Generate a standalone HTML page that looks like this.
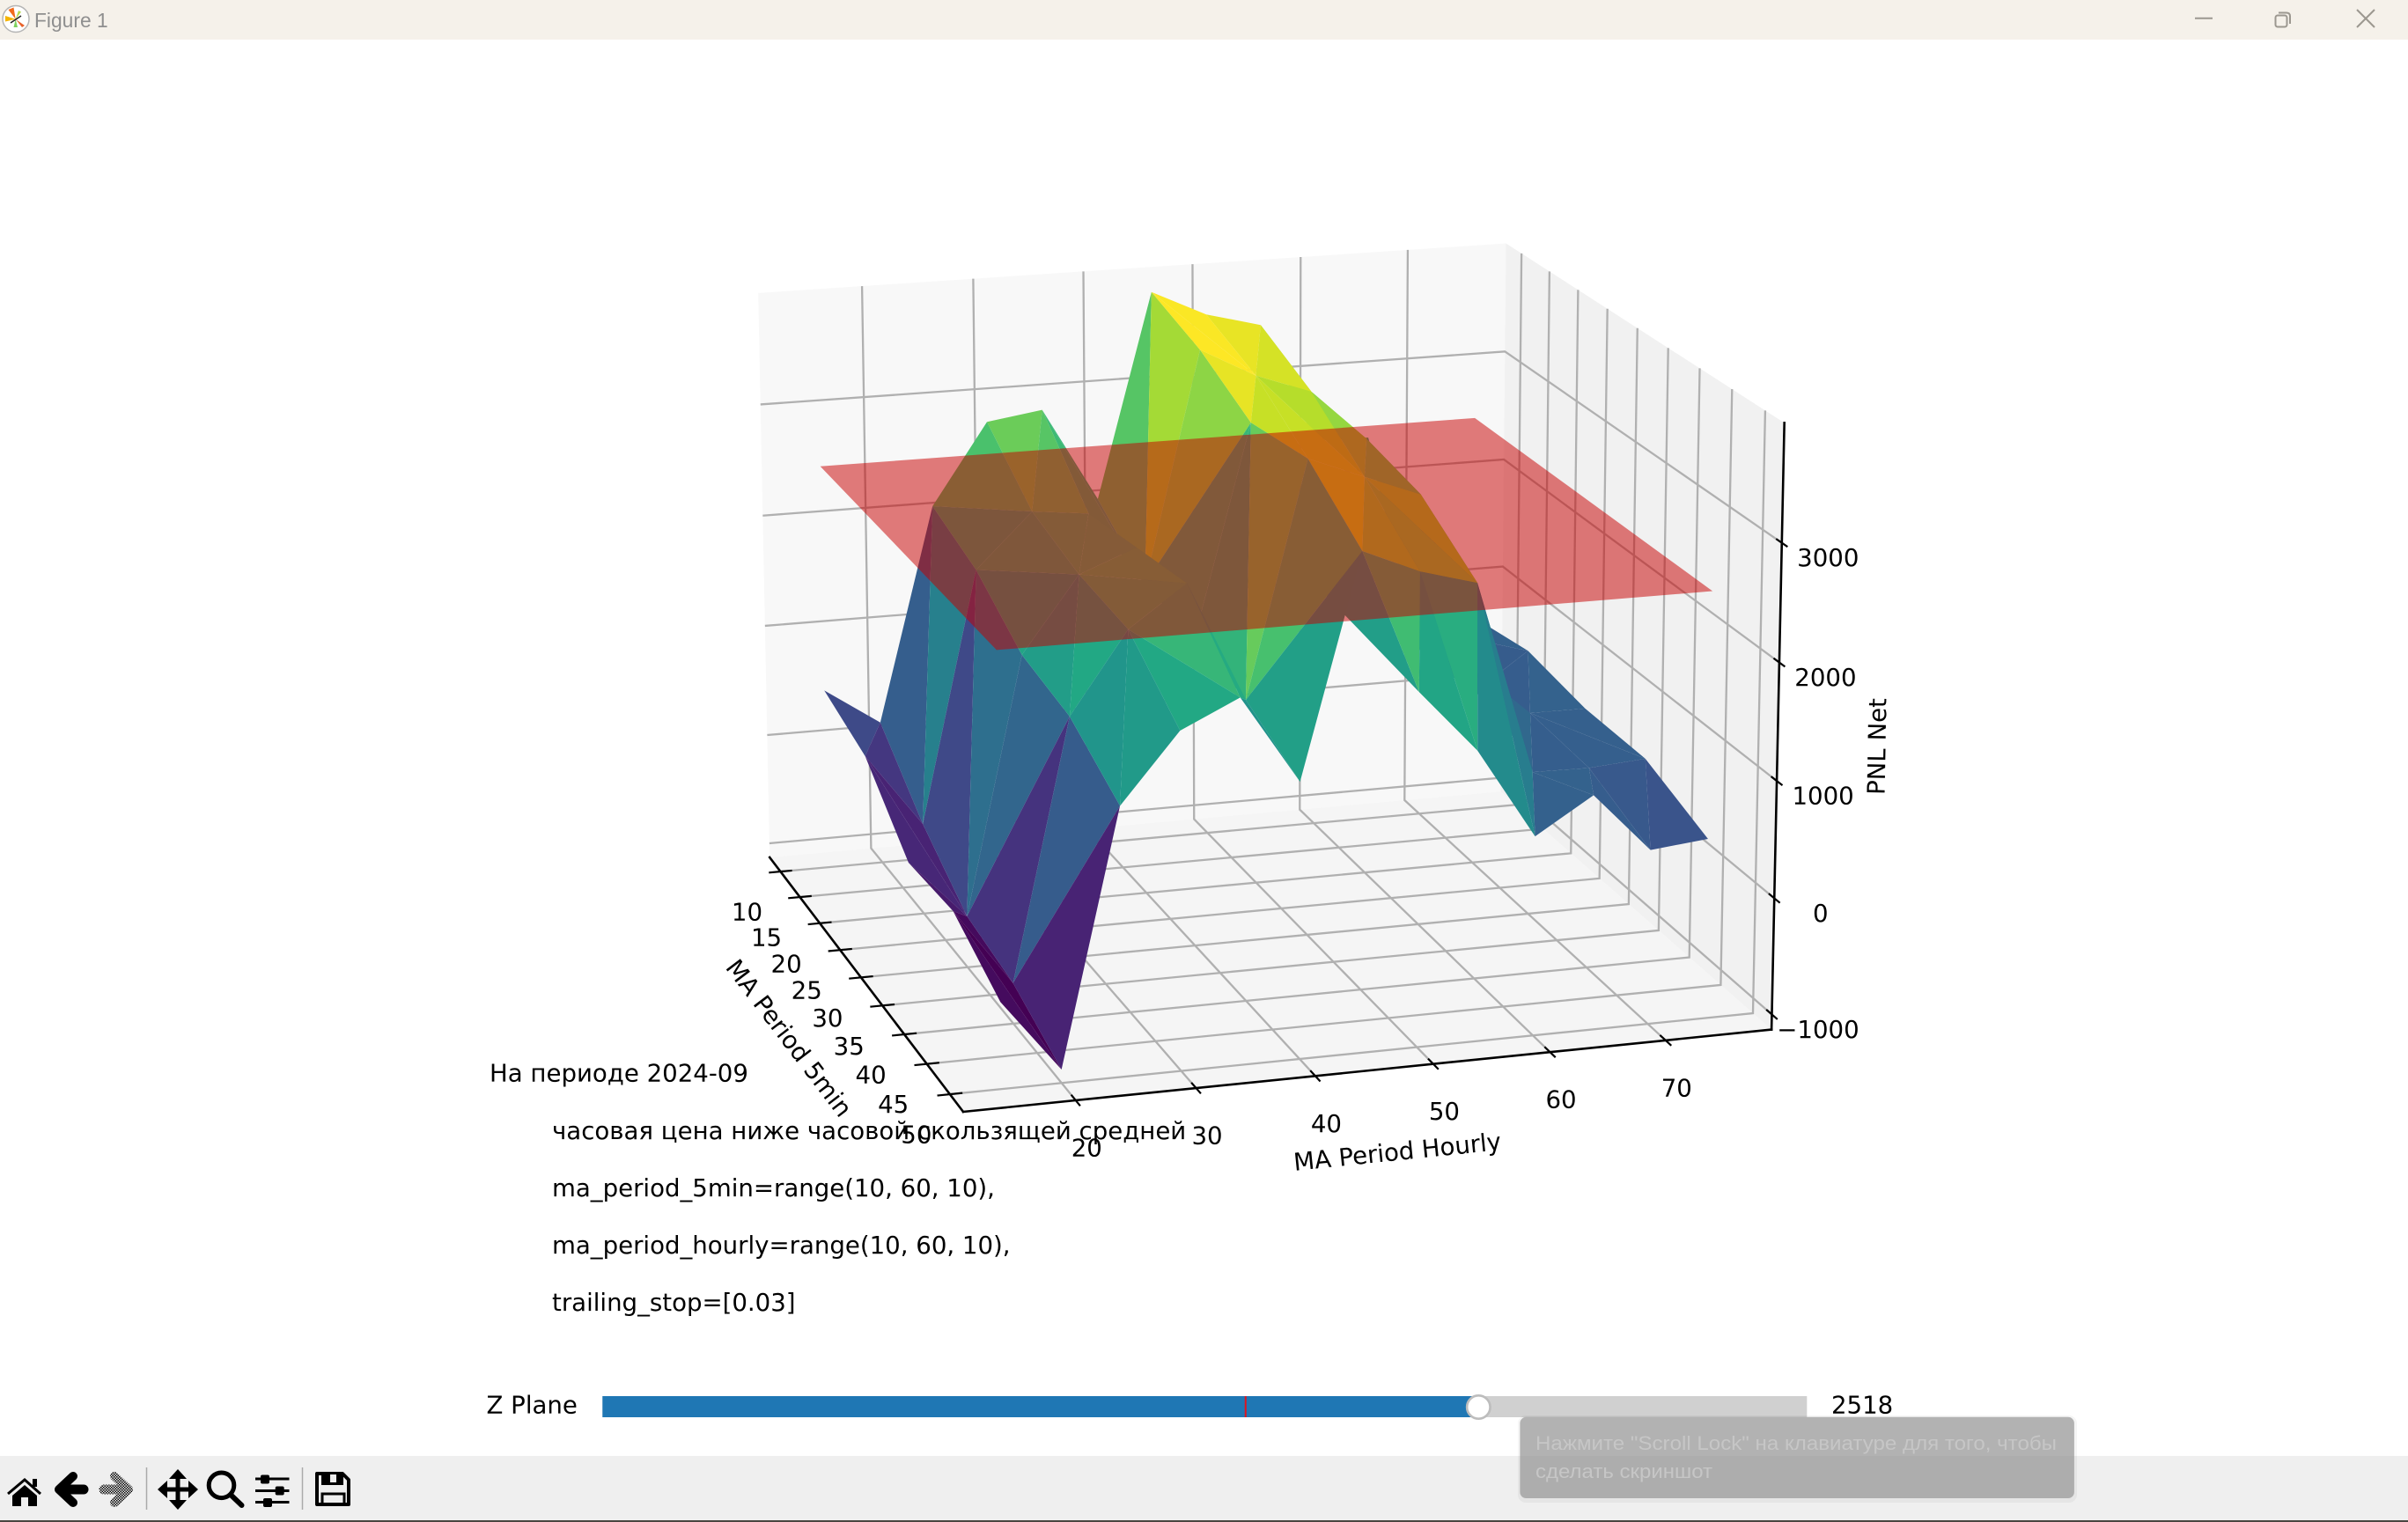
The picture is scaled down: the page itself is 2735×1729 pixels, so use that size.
<!DOCTYPE html>
<html lang="ru">
<head>
<meta charset="utf-8">
<title>Figure 1</title>
<style>
html,body{margin:0;padding:0;background:#fff;width:2735px;height:1729px;overflow:hidden}
svg{display:block}
.mpl{font-family:"DejaVu Sans","Liberation Sans",sans-serif;font-size:27.6px;fill:#000}
.win{font-family:"Liberation Sans","Noto Sans CJK SC",sans-serif}
</style>
</head>
<body>
<svg id="figure" xmlns="http://www.w3.org/2000/svg" width="2735" height="1729" viewBox="0 0 2735 1729">
  <defs>
    <pattern id="dither" width="3" height="3" patternUnits="userSpaceOnUse">
      <rect width="3" height="3" fill="#efefef"/>
      <rect width="1.5" height="1.5" fill="#000"/>
      <rect x="1.5" y="1.5" width="1.5" height="1.5" fill="#000"/>
    </pattern>
  </defs>
  <rect x="0" y="0" width="2735" height="1729" fill="#ffffff"/>

  <g>
    <rect x="0" y="0" width="2735" height="45" fill="#f5f1ea"/>
    <g>
      <circle cx="18" cy="21.500" r="15" fill="#fff" stroke="#b5b5b5" stroke-width="1.500"/>
      <polygon points="17.700,21.700 9.500,11 15.500,8.500" fill="#f26a1b"/>
      <polygon points="17.700,21.700 6,18 6,24.500" fill="#f5b400"/>
      <polygon points="17.700,21.700 21,12 24,13.500" fill="#b5d94c"/>
      <polygon points="17.700,21.700 15.500,31 20,31" fill="#7fd15f"/>
      <polygon points="17.700,21.700 25,31 28,29" fill="#e8622a"/>
      <line x1="12" y1="26" x2="24" y2="18" stroke="#222" stroke-width="1.500"/>
    </g>
    <text class="win" x="39" y="31" font-size="22.800" fill="#8f8f8f">Figure 1</text>
    <line x1="2493" y1="20.700" x2="2513" y2="20.700" stroke="#9c9890" stroke-width="2"/>
    <g fill="none" stroke="#9c9890" stroke-width="2">
      <rect x="2584.500" y="17.500" width="13" height="13" rx="2.500"/>
      <path d="M2588,14.500 H2597 Q2601,14.500 2601,18.500 V27"/>
    </g>
    <g stroke="#9c9890" stroke-width="2">
      <line x1="2677" y1="11" x2="2697" y2="31"/>
      <line x1="2697" y1="11" x2="2677" y2="31"/>
    </g>
  </g>

  <g id="axes3d"></g>

  <g class="mpl">
    <text x="556" y="1228.700">На периоде 2024-09</text>
    <text x="627" y="1294">часовая цена ниже часовой скользящей средней</text>
    <text x="627" y="1358.800">ma_period_5min=range(10, 60, 10),</text>
    <text x="627" y="1424">ma_period_hourly=range(10, 60, 10),</text>
    <text x="627" y="1489">trailing_stop=[0.03]</text>
  </g>

  <g id="slider">
    <text class="mpl" x="552.500" y="1605.500">Z Plane</text>
    <text class="mpl" x="2080" y="1605.500">2518</text>
  </g>

  <g>
    <rect x="0" y="1654" width="2735" height="73" fill="#efefef"/>
    <rect x="0" y="1727" width="2735" height="2" fill="#4a4540"/>
    <g>
      <polyline points="9,1697 28,1681 46,1697" fill="none" stroke="#000" stroke-width="3"/>
      <polygon points="14,1699 28,1687 42,1699 42,1711 32,1711 32,1701 24,1701 24,1711 14,1711" fill="#000"/>
      <rect x="37" y="1680" width="5" height="9" fill="#000"/>
    </g>
    <g fill="none" stroke="#000" stroke-linecap="round" stroke-linejoin="round">
      <polyline points="83,1677 67,1692 83,1707" stroke-width="10"/>
      <line x1="70" y1="1692" x2="95" y2="1692" stroke-width="11"/>
    </g>
    <g fill="none" stroke="url(#dither)" stroke-linecap="round" stroke-linejoin="round">
      <polyline points="130,1677 146,1692 130,1707" stroke-width="10"/>
      <line x1="118" y1="1692" x2="143" y2="1692" stroke-width="11"/>
    </g>
    <line x1="166.500" y1="1667" x2="166.500" y2="1715" stroke="#aaaaaa" stroke-width="1.500"/>
    <g fill="#000">
      <rect x="188" y="1689.500" width="28" height="5"/>
      <rect x="199.500" y="1678" width="5" height="28"/>
      <polygon points="202,1669 212,1680 192,1680"/>
      <polygon points="202,1715 212,1704 192,1704"/>
      <polygon points="179,1692 190,1682 190,1702"/>
      <polygon points="225,1692 214,1682 214,1702"/>
    </g>
    <g fill="none" stroke="#000">
      <circle cx="251.500" cy="1687.300" r="14.300" stroke-width="5"/>
      <line x1="263" y1="1699" x2="274.500" y2="1710" stroke-width="6" stroke-linecap="round"/>
    </g>
    <g fill="#000">
      <rect x="290" y="1678.500" width="38.500" height="3"/>
      <rect x="290" y="1692" width="38.500" height="3"/>
      <rect x="290" y="1705" width="38.500" height="3"/>
      <rect x="296" y="1675.500" width="10" height="10" rx="2"/>
      <rect x="312.700" y="1688.500" width="10" height="10" rx="2"/>
      <rect x="299" y="1702" width="10" height="10" rx="2"/>
    </g>
    <line x1="343.500" y1="1667" x2="343.500" y2="1715" stroke="#aaaaaa" stroke-width="1.500"/>
    <g>
      <path d="M360,1674 H389 L396,1681 V1709 H360 Z" fill="none" stroke="#000" stroke-width="4" stroke-linejoin="round"/>
      <rect x="365" y="1674" width="25" height="13" fill="#000"/>
      <rect x="375" y="1675" width="7" height="9" fill="#efefef"/>
      <rect x="366" y="1697" width="25" height="12" fill="none" stroke="#000" stroke-width="3"/>
    </g>
  </g>

  <g>
    <rect x="1724" y="1608" width="635" height="99" rx="9" fill="#000" opacity="0.04"/>
    <rect x="1726.400" y="1609.800" width="629.500" height="92.200" rx="7" fill="rgb(144,144,144)" fill-opacity="0.67"/>
    <text class="win" x="1744" y="1647" font-size="22" fill="#c6c6c6" textLength="592" lengthAdjust="spacingAndGlyphs">Нажмите "Scroll Lock" на клавиатуре для того, чтобы</text>
    <text class="win" x="1744" y="1679" font-size="22" fill="#c6c6c6" textLength="201" lengthAdjust="spacingAndGlyphs">сделать скриншот</text>
  </g>
</svg>

<script>
/* ---- chart data ---- */
const ma5minValues = [10, 20, 30, 40, 50];
const maHourlyValues = [15, 20, 25, 30, 35, 40, 45, 50, 55, 60, 65, 70, 75];
const pnlAt5min10 = [493, 158, 2085, 2807, 2879, 2036, 3869, 3634, 3505, 2424, 2412, 608, 675];
const pnlAt5min20 = [331, -321, 1904, 2381, 2325, 1662, 3695, 3433, 3256, 2803, 849, 431, 773];
const pnlAt5min30 = [-161, -679, 1565, 2220, 2414, 1579, 3416, 3069, 2874, 2684, 1108, 675, 672];
const pnlAt5min40 = [-111, -779, 1459, 2155, 2503, 1472, 2511, 2658, 2444, 2307, 633, 625, 662];
const pnlAt5min50 = [-397, -1017, 1148, 1728, 1960, 1215, null, 1879, 1344, 575, 879, 367, 416];
const pnlRows = [pnlAt5min10, pnlAt5min20, pnlAt5min30, pnlAt5min40, pnlAt5min50];
/* triangulation topology: diagonal choice per grid cell, plus irregular facets */
const cellDiagonals = ["BBABABABBBBA", "ABABBABABBBB", "BABABxxBABBA", "AABABxxBBBBB"];
const extraFacets = [
  [[2,5],[2,6],[3,5]], [[2,6],[2,7],[3,5]], [[2,7],[3,7],[3,5]],
  [[3,5],[3,7],[4,5]], [[3,6],[3,7],[4,7]]
];
/* colour values for facets whose tint differs from their vertex mean */
const colorOverrideFacets = ["2,7;2,8;3,7", "1,7;2,7;2,8", "2,8;3,7;3,8", "2,8;3,8;3,9", "2,8;2,9;3,9", "3,6;3,7;4,7"];
const colorOverrideValues = [3300, 3300, 3015, 2930, 3060, 1750];
/* facets painted behind everything else */
const backmostFacets = ["3,6;3,7;4,7"];
const xTickValues = [10, 15, 20, 25, 30, 35, 40, 45, 50];
const yTickValues = [20, 30, 40, 50, 60, 70];
const zTickValues = [-1000, 0, 1000, 2000, 3000];
const zPlaneValue = 2518;
const sliderInitValue = 1578;
const sliderMin = -1017;
const sliderMax = 3843;
const viridisStops = ["#440154","#482475","#414487","#355f8d","#2a788e","#21918c","#22a884","#44bf70","#7ad151","#bddf26","#fde725"];

/* ---- axis functions ---- */
const SVG_NS = "http://www.w3.org/2000/svg";
const xAxis = x => (x - 7.17) / 45.66;
const yAxis = y => (y - 10.75) / 68.5;
const zAxis = z => (z + 1131) / 5124;
function project(u, v, w) {
  const d = 1 - 0.1064 * u + 0.03175 * v - 0.02274 * w;
  return {
    x: (874.2 + 103.4 * u + 884.3 * v - 32.6 * w) / d,
    y: (974 + 154.6 * u - 46.3 * v - 648.7 * w) / d,
    depth: d
  };
}
const pointsAttr = pts => pts.map(p => p.x.toFixed(2) + "," + p.y.toFixed(2)).join(" ");
function viridis(t) {
  const c = Math.max(0, Math.min(1, t)) * (viridisStops.length - 1);
  const i = Math.min(Math.floor(c), viridisStops.length - 2);
  const f = c - i;
  const parse = h => [1, 3, 5].map(k => parseInt(h.substr(k, 2), 16));
  const a = parse(viridisStops[i]), b = parse(viridisStops[i + 1]);
  return "rgb(" + a.map((q, k) => Math.round(q + (b[k] - q) * f)).join(",") + ")";
}

const axes = document.getElementById("axes3d");

/* ---- panes ---- */
const paneDefs = [
  [[[0,0,0],[0,1,0],[0,1,1],[0,0,1]], "#f8f8f8"],
  [[[0,1,0],[1,1,0],[1,1,1],[0,1,1]], "#f1f1f1"],
  [[[0,0,0],[1,0,0],[1,1,0],[0,1,0]], "#f5f5f5"]
];
paneDefs.forEach(function (def) {
  const el = document.createElementNS(SVG_NS, "polygon");
  
  
  el.setAttribute("points", pointsAttr(def[0].map(c => project(c[0], c[1], c[2]))));
  el.setAttribute("fill", def[1]);
  axes.appendChild(el);
});

/* ---- gridlines ---- */
function gridPolyline(corners) {
  const el = document.createElementNS(SVG_NS, "polyline");
  el.setAttribute("points", pointsAttr(corners.map(c => project(c[0], c[1], c[2]))));
  el.setAttribute("fill", "none");
  el.setAttribute("stroke", "#b0b0b0");
  el.setAttribute("stroke-width", "2.3");
  axes.appendChild(el);
  return el;
}
xTickValues.forEach(function (t) {
  const u = xAxis(t);
  const el = gridPolyline([[u,0,0],[u,1,0],[u,1,1]]);
  
  
});
yTickValues.forEach(function (t) {
  const v = yAxis(t);
  const el = gridPolyline([[0,v,1],[0,v,0],[1,v,0]]);
  
  
});
zTickValues.forEach(function (t) {
  const w = zAxis(t);
  const el = gridPolyline([[0,0,w],[0,1,w],[1,1,w]]);
  
  
});

/* ---- axis lines and ticks ---- */
function blackLine(a, b, width) {
  const p = project(a[0], a[1], a[2]), q = project(b[0], b[1], b[2]);
  const el = document.createElementNS(SVG_NS, "line");
  el.setAttribute("x1", p.x); el.setAttribute("y1", p.y);
  el.setAttribute("x2", q.x); el.setAttribute("y2", q.y);
  el.setAttribute("stroke", "#000");
  el.setAttribute("stroke-width", width);
  el.setAttribute("stroke-linecap", "square");
  axes.appendChild(el);
  return el;
}
const xLine = blackLine([0,0,0],[1,0,0],2.6);


const yLine = blackLine([1,0,0],[1,1,0],2.6);


const zLine = blackLine([1,1,0],[1,1,1],2.6);



function tickLabel(text, pos, dx, dy) {
  const el = document.createElementNS(SVG_NS, "text");
  el.setAttribute("class", "mpl");
  el.setAttribute("x", pos.x + dx);
  el.setAttribute("y", pos.y + dy + 10);
  el.setAttribute("text-anchor", "middle");
  el.textContent = text;
  axes.appendChild(el);
  return el;
}
xTickValues.forEach(function (t) {
  const u = xAxis(t);
  const tick = blackLine([u,-0.014,0],[u,0.014,0],2.2);
  
  
  const label = tickLabel(String(t), project(u,0,0), -38, 45.5);
  
  
});
yTickValues.forEach(function (t) {
  const v = yAxis(t);
  const tick = blackLine([0.983,v,0],[1.017,v,0],2.2);
  
  
  const label = tickLabel(String(t), project(1,v,0), 12.5, 53.5);
  
  
});
zTickValues.forEach(function (t) {
  const w = zAxis(t);
  const tick = blackLine([0.984,1,w],[1.016,1,w],2.2);
  
  
  const label = tickLabel(String(t).replace("-", "\u2212"), project(1,1,w), 52.5, 16.5);
  
  
});

/* ---- axis titles ---- */
function axisTitle(text, x, y, rot) {
  const el = document.createElementNS(SVG_NS, "text");
  el.setAttribute("class", "mpl");
  el.setAttribute("text-anchor", "middle");
  el.setAttribute("transform", "translate(" + x + " " + y + ") rotate(" + rot + ")");
  el.setAttribute("dy", "10");
  el.textContent = text;
  axes.appendChild(el);
  return el;
}
const xTitle = axisTitle("MA Period 5min", 896.5, 1179, 52.7);


const yTitle = axisTitle("MA Period Hourly", 1587, 1308, -5.8);


const zTitle = axisTitle("PNL Net", 2131.5, 848, -89);



/* ---- surface ---- */
const facets = [];
cellDiagonals.forEach(function (row, r) {
  row.split("").forEach(function (diag, c) {
    if (diag === "A") {
      facets.push([[r,c],[r+1,c],[r+1,c+1]]);
      facets.push([[r,c],[r,c+1],[r+1,c+1]]);
    } else if (diag === "B") {
      facets.push([[r,c],[r,c+1],[r+1,c]]);
      facets.push([[r,c+1],[r+1,c],[r+1,c+1]]);
    }
  });
});
extraFacets.forEach(f => facets.push(f));

const drawable = facets
  .filter(f => f.every(n => pnlRows[n[0]][n[1]] !== null))
  .map(function (f) {
    const zs = f.map(n => pnlRows[n[0]][n[1]]);
    const pts = f.map((n, i) => project(xAxis(ma5minValues[n[0]]), yAxis(maHourlyValues[n[1]]), zAxis(zs[i])));
    const key = f.map(n => n[0] + "," + n[1]).join(";");
    const overrideIndex = colorOverrideFacets.indexOf(key);
    const avg = (zs[0] + zs[1] + zs[2]) / 3;
    return {
      pts: pts,
      avg: avg,
      colorValue: overrideIndex >= 0 ? colorOverrideValues[overrideIndex] : avg,
      depth: (pts[0].depth + pts[1].depth + pts[2].depth) / 3 + (backmostFacets.indexOf(key) >= 0 ? 1 : 0)
    };
  });
const avgMin = Math.min.apply(null, drawable.map(d => d.avg));
const avgMax = Math.max.apply(null, drawable.map(d => d.avg));
drawable.sort((a, b) => b.depth - a.depth);

const surface = document.createElementNS(SVG_NS, "g");


axes.appendChild(surface);
drawable.forEach(function (d) {
  const el = document.createElementNS(SVG_NS, "polygon");
  
  
  el.setAttribute("points", pointsAttr(d.pts));
  el.setAttribute("fill", viridis((d.colorValue - avgMin) / (avgMax - avgMin)));
  surface.appendChild(el);
});

/* ---- z plane ---- */
const planeX0 = xAxis(ma5minValues[0]), planeX1 = xAxis(ma5minValues[ma5minValues.length - 1]);
const planeY0 = yAxis(maHourlyValues[0]), planeY1 = yAxis(maHourlyValues[maHourlyValues.length - 1]);
const planeW = zAxis(zPlaneValue);
const plane = document.createElementNS(SVG_NS, "polygon");


plane.setAttribute("points", pointsAttr([
  project(planeX0, planeY0, planeW), project(planeX0, planeY1, planeW),
  project(planeX1, planeY1, planeW), project(planeX1, planeY0, planeW)
]));
plane.setAttribute("fill", "rgb(198,0,0)");
plane.setAttribute("fill-opacity", "0.515");
axes.appendChild(plane);

/* ---- slider ---- */
const sliderGroup = document.getElementById("slider");
const sliderScale = v => 684.3 + (v - sliderMin) / (sliderMax - sliderMin) * (2052.3 - 684.3);
const handleX = sliderScale(zPlaneValue);
const track = document.createElementNS(SVG_NS, "rect");


track.setAttribute("x", "684.3"); track.setAttribute("y", "1586");
track.setAttribute("width", 2052.3 - 684.3); track.setAttribute("height", "24");
track.setAttribute("fill", "#d0d0d0");
sliderGroup.appendChild(track);
const fill = document.createElementNS(SVG_NS, "rect");


fill.setAttribute("x", "684.3"); fill.setAttribute("y", "1586");
fill.setAttribute("width", handleX - 684.3); fill.setAttribute("height", "24");
fill.setAttribute("fill", "#1f77b4");
sliderGroup.appendChild(fill);
const initLine = document.createElementNS(SVG_NS, "rect");


initLine.setAttribute("x", sliderScale(sliderInitValue) - 1); initLine.setAttribute("y", "1586");
initLine.setAttribute("width", "2"); initLine.setAttribute("height", "24");
initLine.setAttribute("fill", "#e0141e");
sliderGroup.appendChild(initLine);
const handle = document.createElementNS(SVG_NS, "circle");


handle.setAttribute("cx", handleX); handle.setAttribute("cy", "1598.5");
handle.setAttribute("r", "13.2");
handle.setAttribute("fill", "#fff");
handle.setAttribute("stroke", "#bdbdbd");
handle.setAttribute("stroke-width", "2.6");
sliderGroup.appendChild(handle);
</script>
</body>
</html>
